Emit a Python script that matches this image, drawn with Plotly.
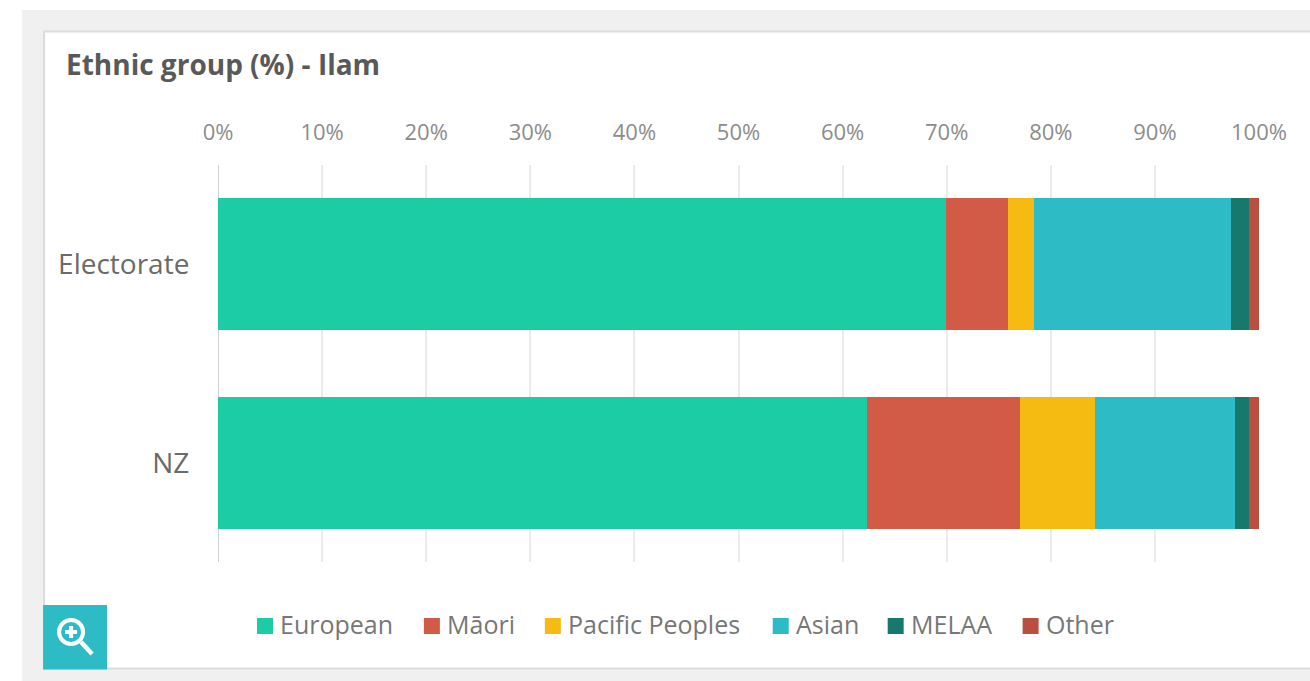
import plotly.graph_objects as go

W, H = 1310, 681
categories = ["Electorate", "NZ"]
series_names = ["European", "Māori", "Pacific Peoples", "Asian", "MELAA", "Other"]
european = [69.9, 62.3]
maori = [6.0, 14.7]
pacific = [2.5, 7.2]
asian = [18.9, 13.5]
melaa = [1.7, 1.3]
other = [1.0, 1.0]
colors = ["#1ccca5", "#d25b48", "#f5bb12", "#2dbcc6", "#16796b", "#b9503f"]
x_ticks = list(range(0, 101, 10))
x_labels = [f"{t}%" for t in x_ticks]
title_text = "Ethnic group (%) - Ilam"
legend_swatch_left = [257, 424, 545, 773, 888, 1023]

L, R, T, B = 218, 1259.5, 165, 562
FONT = "Open Sans"


def px(x):
    return (x - L) / (R - L)


def py(y):
    return (B - y) / (B - T)


fig = go.Figure()
for name, vals, c in zip(series_names, [european, maori, pacific, asian, melaa, other], colors):
    fig.add_trace(go.Bar(name=name, y=categories, x=vals, orientation="h", marker=dict(color=c, line=dict(width=0))))


def rect(x0, y0, x1, y1, fill, line=None, layer="below"):
    return dict(type="rect", xref="paper", yref="paper", x0=px(x0), x1=px(x1), y0=py(y0), y1=py(y1),
                fillcolor=fill, line=dict(width=2 if line else 0, color=line or "rgba(0,0,0,0)"), layer=layer)


shapes = [
    rect(22, 10, 1312, 683, "#f0f0f0"),
    rect(44, 31.5, 1320, 668.5, "#ffffff", "#dcdcdc"),
    rect(43, 605, 107, 669.5, "#2dbcc6", None, "above"),
    dict(type="circle", xref="paper", yref="paper", x0=px(59), x1=px(83), y0=py(620), y1=py(644),
         fillcolor="rgba(0,0,0,0)", line=dict(color="white", width=4), layer="above"),
    dict(type="line", xref="paper", yref="paper", x0=px(81), x1=px(92), y0=py(642), y1=py(654),
         line=dict(color="white", width=4.5), layer="above"),
    dict(type="line", xref="paper", yref="paper", x0=px(65), x1=px(77), y0=py(632), y1=py(632),
         line=dict(color="white", width=4), layer="above"),
    dict(type="line", xref="paper", yref="paper", x0=px(71), x1=px(71), y0=py(626), y1=py(638),
         line=dict(color="white", width=4), layer="above"),
    dict(type="line", xref="x", yref="paper", x0=0, x1=0, y0=0, y1=1,
         line=dict(color="#d0d0d0", width=2), layer="below"),
]

annotations = [dict(text=f"<b>{title_text}</b>", xref="paper", yref="paper", x=px(64), y=py(64),
                    xanchor="left", yanchor="middle", showarrow=False,
                    font=dict(family=FONT, size=28, color="#595959"))]

for left, name, c in zip(legend_swatch_left, series_names, colors):
    shapes.append(rect(left, 618, left + 16, 634, c, None, "above"))
    annotations.append(dict(text=name, xref="paper", yref="paper", x=px(left + 21), y=py(624),
                            xanchor="left", yanchor="middle", showarrow=False,
                            font=dict(family=FONT, size=25, color="#777777")))

fig.update_layout(
    width=W, height=H, autosize=False,
    margin=dict(l=L, r=W - R, t=T, b=H - B, pad=0),
    paper_bgcolor="white", plot_bgcolor="rgba(0,0,0,0)",
    barmode="stack", bargap=0.333,
    showlegend=False,
    shapes=shapes,
    annotations=annotations,
    xaxis=dict(range=[0, 100], side="top", tickmode="array", tickvals=x_ticks, ticktext=x_labels,
               showgrid=True, gridcolor="#ebebeb", gridwidth=1.5, zeroline=False,
               showline=False, ticks="outside", ticklen=15, tickcolor="rgba(0,0,0,0)",
               tickfont=dict(family=FONT, size=22, color="#8c8c8c")),
    yaxis=dict(autorange="reversed", showgrid=False, zeroline=False, showline=False,
               ticks="outside", ticklen=22, tickcolor="rgba(0,0,0,0)",
               tickfont=dict(family=FONT, size=28, color="#6a6a6a")),
)

fig.write_html("out.html", config={"displayModeBar": False},
               post_script="document.body.style.margin='0';document.body.style.overflow='hidden';")
